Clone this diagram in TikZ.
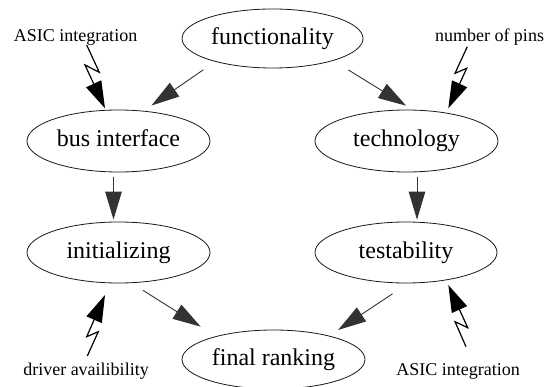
\documentclass[tikz,border=0pt]{standalone}
\usepackage{fontspec}
\setmainfont{Liberation Serif}
\usetikzlibrary{arrows.meta,shapes.geometric}
\begin{document}
\begin{tikzpicture}[x=1pt,y=-1pt,
  stage/.style={ellipse,draw=black!90,line width=0.8pt,inner sep=0pt,
    font=\fontsize{24}{28}\selectfont,text height=16.4pt,text depth=5.2pt},
  factor/.style={anchor=base,inner sep=0pt,font=\fontsize{18}{21}\selectfont},
  flow/.style={draw=black!80,line width=0.9pt,-{Triangle[length=28pt,width=16.5pt]}},
  bolt/.style={draw=black,line width=1.2pt,line join=miter,-{Triangle[length=27pt,width=16.5pt]}}]
\useasboundingbox (0,0) rectangle (554,387);

% design stages
\node[stage,minimum width=181pt,minimum height=59pt] (f) at (272.5,38.5) {functionality};
\node[stage,minimum width=183pt,minimum height=62pt] (b) at (118.5,141) {bus interface};
\node[stage,minimum width=183pt,minimum height=62pt] (t) at (406.5,141) {technology};
\node[stage,minimum width=183pt,minimum height=61pt] (i) at (118.5,252.5) {initializing};
\node[stage,minimum width=182pt,minimum height=61pt] (s) at (406,252.5) {testability};
\node[stage,minimum width=183pt,minimum height=59pt] (r) at (273.5,359.5) {final ranking};

% external factors
\node[factor] (l1) at (75.5,41.7) {ASIC integration};
\node[factor] (l2) at (489.5,41.7) {number of pins};
\node[factor] (l3) at (86,375) {driver availibility};
\node[factor] (l4) at (458,375) {ASIC integration};

% flow between stages
\draw[flow,shorten <=14.3pt,shorten >=9.3pt] (f.202.4) -- (b.50.2);
\draw[flow,shorten <=17.5pt,shorten >=7.6pt] (f.340.5) -- (t.79.2);
\draw[flow,shorten <=5pt,shorten >=2pt] ([xshift=-5pt]b.south) -- ([xshift=-5pt]i.north);
\draw[flow,shorten <=5pt,shorten >=2pt] ([xshift=10.5pt]t.south) -- ([xshift=11pt]s.north);
\draw[flow,shorten <=13.5pt,shorten >=18pt] (i.293.6) -- (r.158.8);
\draw[flow,shorten <=18.8pt,shorten >=10.5pt] (s.274.5) -- (r.23.5);

% lightning influences
\draw[bolt] ([shift={(11.2,3.3)}]l1.base) -- ++(12.6,27.3) -- ++(-14.3,-7.3)
  -- ([shift={(-13.5,-32.7)}]b.center);
\draw[bolt] ([shift={(-22.2,5)}]l2.base) -- ++(-12.3,26.6) -- ++(11.7,-5)
  -- ([shift={(41.8,-32.7)}]t.center);
\draw[bolt] ([shift={(1.3,-19)}]l3.base) -- ++(11,-24.3) -- ++(-11.6,5)
  -- ([shift={(-13.5,42.5)}]i.center);
\draw[bolt] ([shift={(8,-28.3)}]l4.base) -- ++(-11,-25) -- ++(12.7,6)
  -- ([shift={(42.3,32.5)}]s.center);
\end{tikzpicture}
\end{document}
